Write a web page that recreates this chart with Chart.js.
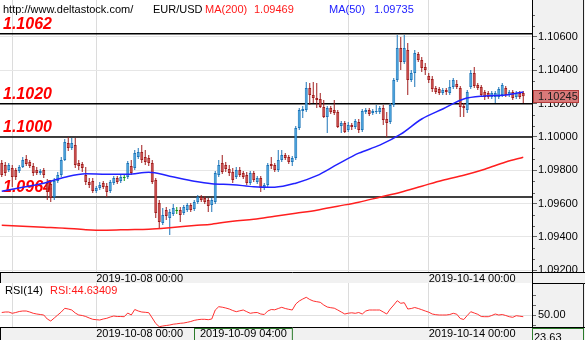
<!DOCTYPE html>
<html>
<head>
<meta charset="utf-8">
<script src="https://cdn.jsdelivr.net/npm/chart.js@4.4.0/dist/chart.umd.min.js"></script>
<style>
  html, body { margin: 0; padding: 0; background: #fff; }
  #wrap { position: relative; width: 585px; height: 340px; overflow: hidden; }
  #price { position: absolute; left: 0; top: 0; }
  #rsi { position: absolute; left: 0; top: 283px; }
</style>
</head>
<body>
<div id="wrap">
  <canvas id="price" width="585" height="283"></canvas>
  <canvas id="rsi" width="585" height="57"></canvas>
</div>
<script>
// hourly EUR/USD candles, one trading session per row: [day, first hour, end hour]
const sessions = [
  ['2019-10-06', 21, 24],
  ['2019-10-07', 0, 24],
  ['2019-10-08', 0, 24],
  ['2019-10-09', 0, 24],
  ['2019-10-10', 0, 24],
  ['2019-10-11', 0, 21],
  ['2019-10-13', 22, 24],
  ['2019-10-14', 0, 24],
  ['2019-10-15', 0, 4]
];

const opens = [
  1.09844, 1.09832, 1.09802, 1.09814, 1.09802, 1.09796, 1.09820, 1.09868, 1.09850, 1.09826,
  1.09802, 1.09784, 1.09802, 1.09724, 1.09718, 1.09640, 1.09736, 1.09772, 1.09862, 1.09964,
  1.09934, 1.09952, 1.09844, 1.09838, 1.09772, 1.09730, 1.09736, 1.09676, 1.09694, 1.09724,
  1.09706, 1.09676, 1.09724, 1.09754, 1.09736, 1.09754, 1.09760, 1.09826, 1.09814, 1.09880,
  1.09910, 1.09880, 1.09874, 1.09844, 1.09742, 1.09604, 1.09484, 1.09562, 1.09514, 1.09538,
  1.09556, 1.09562, 1.09544, 1.09562, 1.09592, 1.09568, 1.09610, 1.09640, 1.09634, 1.09622,
  1.09592, 1.09610, 1.09772, 1.09844, 1.09832, 1.09808, 1.09790, 1.09760, 1.09802, 1.09784,
  1.09772, 1.09724, 1.09784, 1.09730, 1.09754, 1.09694, 1.09712, 1.09838, 1.09832, 1.09802,
  1.09862, 1.09892, 1.09880, 1.09850, 1.09874, 1.10054, 1.10156, 1.10162, 1.10294, 1.10252,
  1.10234, 1.10228, 1.10180, 1.10120, 1.10174, 1.10162, 1.10150, 1.10066, 1.10084, 1.10042,
  1.10072, 1.10060, 1.10090, 1.10042, 1.10150, 1.10162, 1.10144, 1.10150, 1.10150, 1.10174,
  1.10108, 1.10090, 1.10192, 1.10342, 1.10534, 1.10450, 1.10522, 1.10342, 1.10384, 1.10498,
  1.10462, 1.10420, 1.10366, 1.10348, 1.10294, 1.10288, 1.10264, 1.10282, 1.10264, 1.10300,
  1.10318, 1.10294, 1.10186, 1.10162, 1.10300, 1.10384, 1.10312, 1.10300, 1.10270, 1.10264,
  1.10240, 1.10240, 1.10240, 1.10252, 1.10294, 1.10252, 1.10270, 1.10240, 1.10264, 1.10264
];
const highs = [
  1.09862, 1.09850, 1.09844, 1.09832, 1.09814, 1.09832, 1.09880, 1.09892, 1.09862, 1.09844,
  1.09820, 1.09808, 1.09814, 1.09748, 1.09742, 1.09754, 1.09790, 1.09880, 1.09988, 1.10000,
  1.09994, 1.09994, 1.09862, 1.09850, 1.09820, 1.09754, 1.09754, 1.09706, 1.09730, 1.09736,
  1.09724, 1.09742, 1.09766, 1.09766, 1.09772, 1.09772, 1.09856, 1.09862, 1.09922, 1.09934,
  1.09952, 1.09922, 1.09892, 1.09862, 1.09754, 1.09622, 1.09574, 1.09580, 1.09568, 1.09598,
  1.09580, 1.09580, 1.09592, 1.09604, 1.09604, 1.09622, 1.09652, 1.09652, 1.09646, 1.09634,
  1.09634, 1.09796, 1.09862, 1.09892, 1.09850, 1.09832, 1.09814, 1.09820, 1.09820, 1.09796,
  1.09790, 1.09796, 1.09796, 1.09766, 1.09766, 1.09724, 1.09844, 1.09880, 1.09844, 1.09922,
  1.09922, 1.09904, 1.09892, 1.09886, 1.10066, 1.10174, 1.10186, 1.10330, 1.10324, 1.10330,
  1.10324, 1.10264, 1.10222, 1.10186, 1.10186, 1.10222, 1.10162, 1.10096, 1.10096, 1.10090,
  1.10084, 1.10108, 1.10108, 1.10168, 1.10174, 1.10174, 1.10168, 1.10192, 1.10186, 1.10192,
  1.10150, 1.10204, 1.10354, 1.10612, 1.10600, 1.10612, 1.10564, 1.10402, 1.10522, 1.10510,
  1.10480, 1.10444, 1.10384, 1.10366, 1.10306, 1.10300, 1.10294, 1.10294, 1.10342, 1.10354,
  1.10342, 1.10306, 1.10204, 1.10282, 1.10402, 1.10420, 1.10324, 1.10312, 1.10282, 1.10276,
  1.10276, 1.10276, 1.10300, 1.10324, 1.10306, 1.10282, 1.10282, 1.10276, 1.10276, 1.10276
];
const lows = [
  1.09760, 1.09766, 1.09790, 1.09700, 1.09742, 1.09784, 1.09814, 1.09826, 1.09814, 1.09766,
  1.09772, 1.09772, 1.09754, 1.09622, 1.09610, 1.09622, 1.09724, 1.09760, 1.09856, 1.09916,
  1.09922, 1.09814, 1.09802, 1.09790, 1.09712, 1.09694, 1.09664, 1.09664, 1.09682, 1.09688,
  1.09640, 1.09664, 1.09712, 1.09718, 1.09724, 1.09736, 1.09748, 1.09772, 1.09802, 1.09868,
  1.09844, 1.09832, 1.09826, 1.09718, 1.09514, 1.09454, 1.09472, 1.09502, 1.09412, 1.09526,
  1.09538, 1.09490, 1.09532, 1.09550, 1.09550, 1.09556, 1.09598, 1.09610, 1.09598, 1.09550,
  1.09550, 1.09598, 1.09760, 1.09778, 1.09790, 1.09766, 1.09724, 1.09748, 1.09760, 1.09748,
  1.09712, 1.09712, 1.09730, 1.09718, 1.09670, 1.09682, 1.09700, 1.09808, 1.09790, 1.09790,
  1.09850, 1.09862, 1.09838, 1.09826, 1.09862, 1.10042, 1.10114, 1.10150, 1.10192, 1.10204,
  1.10174, 1.10174, 1.10114, 1.10024, 1.10138, 1.10132, 1.10054, 1.10024, 1.10024, 1.10030,
  1.10042, 1.10048, 1.10024, 1.10030, 1.10138, 1.10126, 1.10132, 1.10138, 1.10138, 1.10072,
  1.10000, 1.10078, 1.10180, 1.10330, 1.10402, 1.10438, 1.10252, 1.10330, 1.10300, 1.10450,
  1.10390, 1.10372, 1.10324, 1.10270, 1.10258, 1.10252, 1.10252, 1.10252, 1.10252, 1.10288,
  1.10288, 1.10120, 1.10120, 1.10144, 1.10288, 1.10294, 1.10282, 1.10240, 1.10222, 1.10228,
  1.10228, 1.10204, 1.10228, 1.10240, 1.10240, 1.10240, 1.10222, 1.10228, 1.10228, 1.10204
];
const closes = [
  1.09772, 1.09784, 1.09832, 1.09760, 1.09760, 1.09820, 1.09862, 1.09838, 1.09826, 1.09784,
  1.09784, 1.09796, 1.09772, 1.09670, 1.09634, 1.09736, 1.09772, 1.09862, 1.09970, 1.09934,
  1.09964, 1.09832, 1.09826, 1.09814, 1.09730, 1.09712, 1.09676, 1.09694, 1.09712, 1.09700,
  1.09670, 1.09730, 1.09754, 1.09730, 1.09760, 1.09754, 1.09844, 1.09784, 1.09904, 1.09910,
  1.09862, 1.09850, 1.09844, 1.09730, 1.09544, 1.09490, 1.09532, 1.09526, 1.09550, 1.09574,
  1.09556, 1.09532, 1.09580, 1.09592, 1.09562, 1.09610, 1.09640, 1.09622, 1.09610, 1.09586,
  1.09622, 1.09784, 1.09832, 1.09790, 1.09808, 1.09784, 1.09742, 1.09802, 1.09772, 1.09760,
  1.09724, 1.09784, 1.09742, 1.09754, 1.09694, 1.09712, 1.09832, 1.09826, 1.09802, 1.09862,
  1.09892, 1.09874, 1.09850, 1.09874, 1.10054, 1.10162, 1.10168, 1.10294, 1.10252, 1.10234,
  1.10222, 1.10180, 1.10120, 1.10174, 1.10150, 1.10144, 1.10060, 1.10084, 1.10030, 1.10072,
  1.10060, 1.10096, 1.10042, 1.10156, 1.10162, 1.10138, 1.10156, 1.10156, 1.10174, 1.10102,
  1.10084, 1.10192, 1.10342, 1.10534, 1.10450, 1.10534, 1.10342, 1.10384, 1.10504, 1.10462,
  1.10414, 1.10402, 1.10342, 1.10288, 1.10270, 1.10264, 1.10282, 1.10270, 1.10300, 1.10342,
  1.10300, 1.10180, 1.10174, 1.10270, 1.10384, 1.10306, 1.10294, 1.10252, 1.10240, 1.10240,
  1.10264, 1.10264, 1.10288, 1.10312, 1.10252, 1.10270, 1.10234, 1.10264, 1.10240, 1.10245
];

// moving averages, read at these candle positions
const maIdx = [0, 6, 12, 18, 24, 30, 36, 42, 48, 55, 60, 66, 72, 78, 84, 90, 96, 102, 108, 114, 120, 126, 132, 138, 144, 149];
const ma200 = [1.09471, 1.09465, 1.09459, 1.09453, 1.09444, 1.09441, 1.09444, 1.09447, 1.09456, 1.09469,
  1.09477, 1.09495, 1.09507, 1.09525, 1.09543, 1.09561, 1.09585, 1.09609, 1.09639, 1.09669,
  1.09705, 1.09741, 1.09771, 1.09807, 1.09850, 1.09878];
const ma50 = [1.09675, 1.09699, 1.09723, 1.09759, 1.09780, 1.09777, 1.09777, 1.09789, 1.09765, 1.09735,
  1.09720, 1.09714, 1.09702, 1.09699, 1.09723, 1.09768, 1.09837, 1.09903, 1.09951, 1.10017,
  1.10108, 1.10168, 1.10228, 1.10246, 1.10252, 1.10270];

const rsi = [
  52.5, 53, 53, 51.7, 52.5, 53.5, 54, 54, 53, 51.7,
  51, 50.5, 50, 46, 44, 47, 50, 53, 56.7, 56,
  55, 52, 50, 49.5, 48.5, 47, 45.7, 45.3, 45, 46,
  46.7, 48, 49, 48.5, 48.5, 48.3, 52, 50, 55.5, 54,
  53, 52.7, 52.3, 47, 41.5, 38.3, 39, 39.5, 40, 40.8,
  41.2, 41.7, 42, 42.7, 43.5, 44.63409, 45.3, 45.7, 45.7, 45.3,
  46, 55, 58.3, 57.8, 57, 56, 54.5, 53.3, 54.2, 55,
  53.3, 51.7, 52.3, 52.5, 51, 50.5, 54, 55.5, 55.2, 56.5,
  57.7, 56.5, 55.7, 55, 61, 64, 66, 67.7, 65.5, 64,
  63.3, 62.7, 60, 58, 57.3, 56.8, 55, 53, 51, 51.8,
  52.2, 51.7, 52.5, 51, 54, 55, 55, 55, 55, 53,
  51, 56, 60, 64.3, 61.7, 62.3, 56, 56.5, 57.5, 56.5,
  55.3, 54, 52.8, 51, 50.3, 50, 50, 50, 50.5, 51.7,
  50.8, 46.5, 45.5, 49.5, 53.3, 52, 50.7, 48.5, 48.3, 48.3,
  49.5, 51, 50, 50.5, 49.5, 48.3, 47.7, 49.3, 48.8, 48.3
];

// horizontal support / resistance levels
const levels = [1.1062, 1.1020, 1.1000, 1.0964];

const yTicks = [1.092, 1.094, 1.096, 1.098, 1.100, 1.102, 1.104, 1.106];
const rsiTicks = [40, 50, 60, 70];
const rsiLabelled = [50];

const gridDays = ['2019-10-07 00:00', '2019-10-08 00:00', '2019-10-11 00:00', '2019-10-14 00:00'];
const axisDays = ['2019-10-08 00:00', '2019-10-14 00:00'];
const cursorTime = '2019-10-09 04:00';
const cursorRsiText = '23.63';

const hours = [];
sessions.forEach(([day, from, to]) => {
  for (let h = from; h < to; h++) hours.push(day + ' ' + String(h).padStart(2, '0') + ':00');
});
// two empty slots after the last candle
const labels = hours.concat(['', ' ']);
const cursor = labels.indexOf(cursorTime);

const UP = '#47a6e0', UP_EDGE = '#1c74b8';
const DOWN = '#cf4a4a', DOWN_EDGE = '#a11c1c';
const DOJI = '#119911';
const FONT = '"Liberation Sans", Arial, sans-serif';

const side = i => closes[i] > opens[i] ? 1 : (closes[i] < opens[i] ? -1 : 0);
const fillFor = i => side(i) > 0 ? UP : (side(i) < 0 ? DOWN : DOJI);
const edgeFor = i => side(i) > 0 ? UP_EDGE : (side(i) < 0 ? DOWN_EDGE : DOJI);

Chart.defaults.font.family = FONT;
Chart.defaults.font.size = 11;
Chart.defaults.color = '#000';

const xGridColor = c => gridDays.includes(labels[c.index]) ? '#dcdcdc' : 'rgba(0,0,0,0)';

// keep the plot flush with the canvas edges
const noPad = s => { s.paddingTop = 0; s.paddingBottom = 0; s.paddingLeft = 0; s.paddingRight = 0; };

function xAxis(height) {
  return {
    type: 'category',
    offset: true,
    border: { display: false },
    grid: { offset: false, drawTicks: false, color: xGridColor },
    ticks: {
      autoSkip: false, maxRotation: 0, minRotation: 0, align: 'start', padding: 0,
      callback: (v, i) => axisDays.includes(labels[i]) ? labels[i] : ''
    },
    afterFit: s => { s.height = height; noPad(s); }
  };
}

function line(ctx, x1, y1, x2, y2, color, w) {
  ctx.strokeStyle = color;
  ctx.lineWidth = w || 1;
  ctx.beginPath();
  ctx.moveTo(x1, y1);
  ctx.lineTo(x2, y2);
  ctx.stroke();
}

const priceDecor = {
  id: 'priceDecor',
  beforeDraw(chart) {
    const { ctx, chartArea: a, width, height } = chart;
    ctx.save();
    ctx.fillStyle = '#fff';
    ctx.fillRect(0, 0, width, height);
    ctx.fillStyle = '#f1f1f1';
    ctx.fillRect(a.right, 0, width - a.right, height);
    ctx.fillRect(0, a.bottom, width, height - a.bottom);
    ctx.restore();
  },
  beforeDatasetsDraw(chart) {
    const { ctx, chartArea: a, scales: { y } } = chart;
    ctx.save();
    ctx.beginPath();
    ctx.rect(a.left, a.top, a.right - a.left, a.bottom - a.top);
    ctx.clip();
    ctx.font = 'italic bold 16px ' + FONT;
    levels.forEach(v => {
      const py = y.getPixelForValue(v);
      line(ctx, a.left, py, a.right, py, '#000', 1.5);
      ctx.fillStyle = '#ff0000';
      ctx.fillText(v.toFixed(4), 3, py - 5);
    });
    ctx.restore();
  },
  afterDraw(chart) {
    const { ctx, chartArea: a, width, height, scales: { y } } = chart;
    ctx.save();
    // minor ticks on the price axis
    const step = 0.002 / 3;
    for (let k = -3; k < 30; k++) {
      if (k % 3 === 0) continue;
      const v = yTicks[0] + k * step;
      if (v < y.min || v > y.max) continue;
      const py = Math.round(y.getPixelForValue(v)) + 0.5;
      line(ctx, a.right, py, a.right + 3, py, '#666');
    }
    // frame
    line(ctx, 0, a.bottom + 0.5, width, a.bottom + 0.5, '#000');
    line(ctx, a.right + 0.5, 0, a.right + 0.5, height, '#000');
    line(ctx, 0.5, a.bottom, 0.5, height, '#000');
    line(ctx, width - 1.5, 0, width - 1.5, a.bottom, '#222');

    // last price tag
    const last = closes[closes.length - 1];
    const ly = y.getPixelForValue(last);
    ctx.fillStyle = '#d97a7a';
    ctx.fillRect(a.right + 1, Math.round(ly) - 6, 46, 13);
    ctx.strokeStyle = '#b33a3a';
    ctx.lineWidth = 1;
    ctx.strokeRect(a.right + 1.5, Math.round(ly) - 5.5, 45, 12);
    ctx.fillStyle = '#1a1a1a';
    ctx.font = '11px ' + FONT;
    ctx.textBaseline = 'middle';
    ctx.fillText(last.toFixed(5), a.right + 6, Math.round(ly) + 0.5);

    // header
    const k = maIdx.indexOf(cursor);
    const header = [
      ['http://www.deltastock.com/', 3, '#000'],
      ['EUR/USD', 153, '#000'],
      ['MA(200)', 205, '#ff1a1a'],
      [ma200[k].toFixed(5), 254, '#ff1a1a'],
      ['MA(50)', 329, '#1a1aff'],
      [ma50[k].toFixed(5), 374, '#1a1aff']
    ];
    ctx.textBaseline = 'alphabetic';
    header.forEach(([t, x, c]) => { ctx.fillStyle = c; ctx.fillText(t, x, 13); });
    ctx.restore();
  }
};

new Chart(document.getElementById('price'), {
  type: 'bar',
  data: {
    labels,
    datasets: [
      {
        type: 'line', label: 'MA(200)', order: 0,
        data: maIdx.map((k, j) => ({ x: labels[k], y: ma200[j] })),
        borderColor: '#ff1f1f', borderWidth: 1.5, pointRadius: 0, cubicInterpolationMode: 'monotone'
      },
      {
        type: 'line', label: 'MA(50)', order: 0,
        data: maIdx.map((k, j) => ({ x: labels[k], y: ma50[j] })),
        borderColor: '#2222ff', borderWidth: 1.5, pointRadius: 0, cubicInterpolationMode: 'monotone'
      },
      {
        label: 'body', order: 1, grouped: false,
        data: opens.map((o, i) => [o, closes[i]]),
        backgroundColor: c => fillFor(c.dataIndex),
        borderColor: c => edgeFor(c.dataIndex),
        borderWidth: 1, borderSkipped: false, barThickness: 3, minBarLength: 1, inflateAmount: 0
      },
      {
        label: 'wick', order: 2, grouped: false,
        data: lows.map((l, i) => [l, highs[i]]),
        backgroundColor: c => edgeFor(c.dataIndex),
        borderWidth: 0, barThickness: 1, inflateAmount: 0
      }
    ]
  },
  options: {
    responsive: false,
    animation: false,
    devicePixelRatio: 1,
    layout: { padding: 0 },
    plugins: { legend: { display: false }, tooltip: { enabled: false } },
    scales: {
      x: xAxis(11),
      y: {
        position: 'right',
        min: 1.0919,
        max: 1.10822,
        border: { display: true, color: '#000' },
        grid: { color: '#e6e6e6', tickColor: '#666', tickLength: 5 },
        ticks: { autoSkip: false, padding: 1, callback: v => Number(v).toFixed(5) },
        afterBuildTicks: s => { s.ticks = yTicks.map(v => ({ value: v })); },
        afterFit: s => { s.width = 53; noPad(s); }
      }
    }
  },
  plugins: [priceDecor]
});

const rsiDecor = {
  id: 'rsiDecor',
  beforeDraw(chart) {
    const { ctx, chartArea: a, width, height } = chart;
    ctx.save();
    ctx.fillStyle = '#fff';
    ctx.fillRect(0, 0, width, height);
    ctx.fillStyle = '#f1f1f1';
    ctx.fillRect(a.right, 0, width - a.right, height);
    ctx.fillRect(0, a.bottom, width, height - a.bottom);
    ctx.restore();
  },
  afterDraw(chart) {
    const { ctx, chartArea: a, width, height, scales: { x } } = chart;
    ctx.save();
    line(ctx, 0, a.bottom + 0.5, width, a.bottom + 0.5, '#000');
    line(ctx, a.right, 0.5, width, 0.5, '#000');
    line(ctx, a.right + 0.5, 0, a.right + 0.5, height, '#000');
    line(ctx, 0.5, a.bottom, 0.5, height, '#000');
    line(ctx, width - 1.5, 0, width - 1.5, a.bottom, '#222');

    ctx.font = '11px ' + FONT;
    ctx.fillStyle = '#000';
    ctx.fillText('RSI(14)', 5, 11);
    ctx.fillStyle = '#ff1a1a';
    ctx.fillText('RSI:' + rsi[cursor].toFixed(5), 50, 11);

    // crosshair readouts on both axes
    const cx = Math.round(x.getPixelForValue(cursor));
    const tw = ctx.measureText(cursorTime).width;
    ctx.fillStyle = '#f1f1f1';
    ctx.fillRect(cx, a.bottom + 1, tw + 12, height);
    ctx.strokeStyle = '#2a7a2a';
    ctx.strokeRect(cx + 0.5, a.bottom + 1.5, tw + 11, height);
    ctx.fillStyle = '#000';
    ctx.textBaseline = 'middle';
    ctx.fillText(cursorTime, cx + 6, a.bottom + 7);

    ctx.fillStyle = '#f1f1f1';
    ctx.fillRect(a.right + 1, a.bottom + 1, width - a.right - 2, height);
    ctx.strokeRect(a.right + 0.5, a.bottom + 1.5, width - a.right - 2, height);
    ctx.fillStyle = '#000';
    ctx.fillText(cursorRsiText, a.right + 2, a.bottom + 11);
    ctx.restore();
  }
};

new Chart(document.getElementById('rsi'), {
  type: 'line',
  data: {
    labels,
    datasets: [{
      label: 'RSI(14)',
      data: rsi,
      borderColor: '#ff3030', borderWidth: 1, pointRadius: 0, tension: 0
    }]
  },
  options: {
    responsive: false,
    animation: false,
    devicePixelRatio: 1,
    layout: { padding: 0 },
    plugins: { legend: { display: false }, tooltip: { enabled: false } },
    scales: {
      x: xAxis(13),
      y: {
        position: 'right',
        min: 38,
        max: 82,
        border: { display: true, color: '#000' },
        grid: {
          tickColor: '#666', tickLength: 4,
          color: c => rsiLabelled.includes(c.tick && c.tick.value) ? '#e0e0e0' : 'rgba(0,0,0,0)'
        },
        ticks: { autoSkip: false, padding: 2, callback: v => rsiLabelled.includes(v) ? Number(v).toFixed(2) : '' },
        afterBuildTicks: s => { s.ticks = rsiTicks.map(v => ({ value: v })); },
        afterFit: s => { s.width = 53; noPad(s); }
      }
    }
  },
  plugins: [rsiDecor]
});
</script>
</body>
</html>
